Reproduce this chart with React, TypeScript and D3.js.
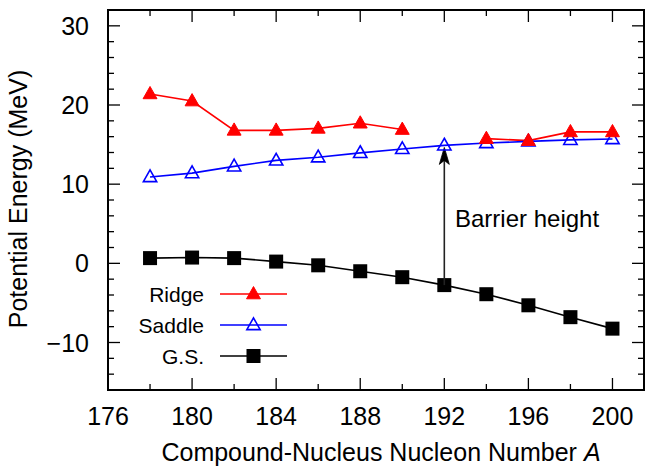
import React from "react";
import * as d3 from "d3";

const massNumbers = [178, 180, 182, 184, 186, 188, 190, 192, 194, 196, 198, 200];
const ridgeValues: (number | null)[] = [21.4, 20.5, 16.8, 16.8, 17.05, 17.7, 16.9, null, 15.75, 15.5, 16.6, 16.6];
const saddleValues = [10.9, 11.4, 12.25, 13.0, 13.4, 13.95, 14.45, 14.9, 15.2, 15.4, 15.6, 15.7];
const gsValues = [0.66, 0.73, 0.66, 0.22, -0.25, -1.0, -1.75, -2.75, -3.9, -5.3, -6.8, -8.25];
const xTickLabels = [176, 180, 184, 188, 192, 196, 200];
const yTickLabels = [-10, 0, 10, 20, 30];
const seriesNames = ["Ridge", "Saddle", "G.S."];
const arrowMass = 192;

const W = 653;
const H = 466;
const M = { left: 108, right: 9, top: 10, bottom: 76 };
const FONT = "'Liberation Sans', Arial, Helvetica, sans-serif";

export default function App() {
  const x = d3.scaleLinear().domain([176, 201.5]).range([M.left, W - M.right]);
  const y = d3.scaleLinear().domain([-16, 32]).range([H - M.bottom, M.top]);
  const x0 = M.left, x1 = W - M.right, y0 = H - M.bottom, y1 = M.top;

  const lineGen = d3
    .line<[number, number | null]>()
    .defined((d) => d[1] !== null)
    .x((d) => x(d[0]))
    .y((d) => y(d[1] as number));

  const ridge = massNumbers.map((m, i) => [m, ridgeValues[i]] as [number, number | null]);
  const saddle = massNumbers.map((m, i) => [m, saddleValues[i]] as [number, number | null]);
  const gs = massNumbers.map((m, i) => [m, gsValues[i]] as [number, number | null]);

  const xMinor = d3.range(176, 202, 2);
  const yMinor = d3.range(-16, 33, 2);

  const tri = (cx: number, cy: number, s: number) =>
    `M${cx},${cy - s * 0.62}L${cx + s * 0.58},${cy + s * 0.4}L${cx - s * 0.58},${cy + s * 0.4}Z`;

  const marker = (k: number, cx: number, cy: number, key: string) => {
    if (k === 0) return <path key={key} d={tri(cx, cy, 12)} fill="#ff0000" stroke="#ff0000" strokeWidth={1} />;
    if (k === 1) return <path key={key} d={tri(cx, cy, 11.5)} fill="none" stroke="#0000ff" strokeWidth={1.6} />;
    return <rect key={key} x={cx - 7} y={cy - 7} width={14} height={14} fill="#000" />;
  };

  const ax = x(arrowMass);
  const gsIdx = massNumbers.indexOf(arrowMass);
  const arrowBottom = y(gsValues[gsIdx]);
  const arrowTip = y(saddleValues[gsIdx]) + 2;

  const legendY = [294, 325, 356];
  const colors = ["#ff0000", "#0000ff", "#000000"];

  return (
    <svg width={W} height={H} style={{ position: "absolute", left: 0, top: 0 }} fontFamily={FONT}>
      <rect x={0} y={0} width={W} height={H} fill="#fff" />
      {/* ticks */}
      {xMinor.map((v) => {
        const major = (v - 176) % 4 === 0;
        const len = major ? 12 : 6;
        return (
          <g key={"xt" + v} stroke="#000" strokeWidth={1.3}>
            <line x1={x(v)} x2={x(v)} y1={y0} y2={y0 - len} />
            <line x1={x(v)} x2={x(v)} y1={y1} y2={y1 + len} />
          </g>
        );
      })}
      {yMinor.map((v) => {
        const major = v % 10 === 0;
        const len = major ? 12 : 6;
        return (
          <g key={"yt" + v} stroke="#000" strokeWidth={1.3}>
            <line x1={x0} x2={x0 + len} y1={y(v)} y2={y(v)} />
            <line x1={x1} x2={x1 - len} y1={y(v)} y2={y(v)} />
          </g>
        );
      })}
      {/* lines */}
      <path d={lineGen(ridge) || ""} fill="none" stroke="#ff0000" strokeWidth={1.6} />
      <path d={lineGen(saddle) || ""} fill="none" stroke="#0000ff" strokeWidth={1.6} />
      <path d={lineGen(gs) || ""} fill="none" stroke="#000" strokeWidth={1.6} />
      {gs.map((d, i) => marker(2, x(d[0]), y(d[1] as number), "g" + i))}
      {/* arrow */}
      <line x1={ax} x2={ax} y1={arrowBottom} y2={arrowTip + 12} stroke="#222" strokeWidth={1.6} />
      <path
        d={`M${ax},${arrowTip}L${ax + 5},${arrowTip + 17}L${ax},${arrowTip + 13}L${ax - 5},${arrowTip + 17}Z`}
        fill="#000"
        stroke="#000"
        strokeWidth={0.8}
      />
      {saddle.map((d, i) => marker(1, x(d[0]), y(d[1] as number), "s" + i))}
      {ridge.filter((d) => d[1] !== null).map((d, i) => marker(0, x(d[0]), y(d[1] as number), "r" + i))}
      {/* frame */}
      <rect x={x0} y={y1} width={x1 - x0} height={y0 - y1} fill="none" stroke="#000" strokeWidth={2} />
      {/* tick labels */}
      {xTickLabels.map((v) => (
        <text key={"xl" + v} x={x(v)} y={425} textAnchor="middle" fontSize={25}>
          {v}
        </text>
      ))}
      {yTickLabels.map((v) => (
        <text key={"yl" + v} x={89} y={y(v) + 9} textAnchor="end" fontSize={25}>
          {v < 0 ? "\u2212" + Math.abs(v) : v}
        </text>
      ))}
      {/* axis labels */}
      <text x={381} y={461} textAnchor="middle" fontSize={25}>
        Compound-Nucleus Nucleon Number <tspan fontStyle="italic">A</tspan>
      </text>
      <text transform="translate(27,199) rotate(-90)" textAnchor="middle" fontSize={25}>
        Potential Energy (MeV)
      </text>
      {/* annotation */}
      <text x={455} y={227} fontSize={24}>
        Barrier height
      </text>
      {/* legend */}
      {seriesNames.map((n, k) => (
        <g key={"lg" + n}>
          <text x={204} y={legendY[k] + 7.5} textAnchor="end" fontSize={21}>
            {n}
          </text>
          <line x1={220} x2={287} y1={legendY[k]} y2={legendY[k]} stroke={colors[k]} strokeWidth={1.6} />
          {marker(k, 253.5, legendY[k], "lm" + k)}
        </g>
      ))}
    </svg>
  );
}
